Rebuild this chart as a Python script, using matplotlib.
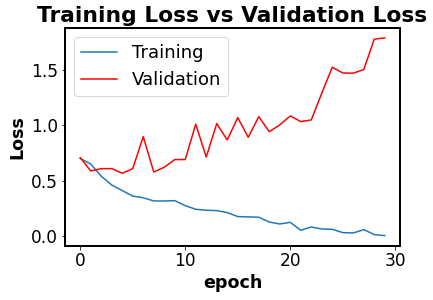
import numpy as np
import matplotlib.pyplot as plt

# ============================================================
# DATA
# ============================================================

epochs = np.arange(30)

train_loss = [0.70, 0.65, 0.54, 0.46, 0.41, 0.36, 0.345, 0.316, 0.316, 0.319,
              0.274, 0.241, 0.232, 0.229, 0.211, 0.175, 0.172, 0.169, 0.126, 0.108,
              0.123, 0.051, 0.081, 0.063, 0.060, 0.030, 0.027, 0.057, 0.012, 0.003]

val_loss = [0.707, 0.587, 0.608, 0.608, 0.566, 0.608, 0.897, 0.578, 0.62, 0.69,
            0.69, 1.009, 0.713, 1.015, 0.867, 1.069, 0.891, 1.078, 0.942, 1.003,
            1.084, 1.033, 1.048, 1.289, 1.524, 1.472, 1.47, 1.503, 1.777, 1.789]

# ============================================================
# PLOT
# ============================================================

fig = plt.figure(figsize=(433 / 72, 300 / 72), dpi=72)
ax = fig.add_axes([65 / 433, 1 - 245.5 / 300, 335 / 433, 217.5 / 300])

ax.plot(epochs, train_loss, label="Training")
ax.plot(epochs, val_loss, color="red", label="Validation")

ax.set_title("Training Loss vs Validation Loss", fontsize=21.7, fontweight="bold")
ax.set_xlabel("epoch", fontsize=17.5, fontweight="bold")
ax.set_ylabel("Loss", fontsize=17.5, fontweight="bold")
ax.tick_params(labelsize=17)

for s in ax.spines.values():
    s.set_linewidth(2)

ax.legend(fontsize=18)

plt.savefig("out.png", dpi=72)
